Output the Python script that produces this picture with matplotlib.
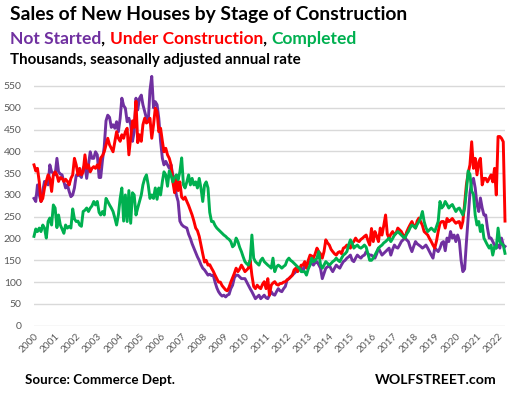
import matplotlib
matplotlib.use("Agg")
import matplotlib.pyplot as plt
import pandas as pd

start_month = "2000-01-01"
year_labels = [str(y) for y in range(2000, 2023)]
y_ticks = list(range(0, 551, 50))

not_started = [
    292, 285, 323, 300, 285, 310, 331, 327, 323, 369, 353, 350,
    346, 384, 353, 348, 346, 331, 316, 323, 308, 296, 300, 316,
    345, 345, 346, 340, 361, 369, 338, 369, 399, 384, 384, 399,
    392, 340, 340, 380, 410, 470, 483, 478, 455, 461, 453, 468,
    445, 476, 522, 505, 499, 468, 476, 461, 423, 445, 522, 495,
    522, 529, 507, 491, 476, 468, 540, 572, 500, 514, 507, 476,
    423, 384, 369, 377, 369, 361, 369, 345, 330, 300, 285, 240,
    232, 228, 226, 224, 210, 200, 188, 178, 168, 158, 150, 140,
    132, 128, 122, 116, 118, 115, 116, 100, 87, 78, 72, 68,
    70, 66, 70, 72, 85, 93, 110, 116, 116, 112, 108, 108,
    108, 100, 93, 85, 78, 70, 62, 66, 70, 62, 66, 70,
    64, 62, 70, 78, 72, 70, 78, 85, 80, 78, 85, 90,
    105, 108, 112, 116, 120, 124, 128, 132, 132, 124, 139, 139,
    143, 147, 143, 139, 145, 147, 140, 132, 108, 120, 132, 135,
    139, 130, 124, 132, 139, 135, 132, 140, 147, 150, 155, 158,
    162, 150, 147, 155, 162, 158, 155, 160, 162, 170, 165, 162,
    162, 158, 155, 165, 178, 170, 162, 166, 170, 174, 178, 162,
    175, 185, 180, 178, 185, 193, 197, 201, 197, 193, 180, 170,
    182, 193, 188, 185, 182, 178, 181, 185, 178, 170, 162, 155,
    178, 174, 170, 178, 190, 193, 172, 201, 193, 216, 201, 208,
    193, 208, 195, 150, 124, 130, 190, 246, 305, 330, 338, 316,
    278, 262, 293, 270, 254, 254, 224, 201, 201, 193, 185, 178,
    185, 178, 201, 185, 182,
]

under_construction = [
    369, 355, 361, 330, 285, 292, 316, 331, 346, 338, 308, 346,
    353, 346, 331, 340, 338, 331, 336, 331, 323, 338, 346, 384,
    369, 346, 361, 346, 353, 392, 361, 369, 353, 361, 365, 361,
    369, 361, 385, 390, 399, 415, 430, 415, 407, 399, 423, 445,
    430, 423, 438, 430, 445, 453, 392, 430, 470, 455, 515, 420,
    438, 423, 461, 476, 465, 468, 476, 430, 461, 499, 491, 445,
    453, 423, 399, 407, 392, 384, 369, 330, 305, 345, 310, 330,
    295, 290, 295, 285, 276, 265, 254, 240, 224, 218, 205, 185,
    165, 146, 150, 139, 140, 132, 125, 116, 108, 100, 100, 92,
    87, 82, 80, 88, 100, 110, 120, 132, 124, 130, 139, 132,
    124, 128, 132, 150, 116, 90, 85, 93, 88, 85, 95, 101,
    85, 108, 70, 93, 98, 101, 95, 93, 97, 97, 100, 101,
    105, 108, 112, 116, 128, 132, 124, 130, 139, 139, 147, 132,
    150, 162, 160, 155, 165, 178, 170, 165, 155, 170, 197, 190,
    185, 175, 170, 165, 162, 168, 170, 165, 178, 180, 185, 180,
    178, 190, 193, 201, 195, 193, 198, 201, 205, 208, 195, 185,
    223, 193, 216, 205, 193, 224, 208, 230, 254, 210, 201, 210,
    216, 208, 212, 224, 220, 216, 208, 201, 215, 224, 232, 239,
    230, 224, 240, 247, 239, 230, 216, 212, 208, 200, 193, 185,
    178, 195, 216, 235, 239, 239, 224, 246, 239, 242, 246, 240,
    235, 238, 239, 224, 239, 280, 323, 350, 369, 422, 361, 384,
    346, 376, 384, 323, 338, 338, 330, 338, 346, 330, 361, 300,
    434, 434, 430, 422, 240,
]

completed = [
    205, 222, 216, 224, 216, 231, 224, 201, 239, 247, 231, 277,
    270, 225, 254, 231, 222, 212, 231, 224, 228, 224, 268, 245,
    239, 240, 231, 228, 262, 265, 270, 262, 270, 275, 285, 277,
    285, 260, 254, 262, 254, 292, 285, 277, 270, 262, 247, 231,
    254, 292, 316, 240, 300, 239, 310, 235, 305, 300, 254, 270,
    285, 300, 323, 338, 346, 323, 292, 300, 292, 316, 290, 316,
    300, 331, 353, 346, 320, 355, 345, 330, 340, 346, 335, 353,
    385, 323, 316, 330, 346, 323, 338, 323, 330, 316, 338, 316,
    285, 323, 330, 316, 260, 239, 239, 230, 224, 220, 216, 212,
    208, 205, 201, 198, 193, 181, 185, 201, 193, 180, 170, 158,
    147, 142, 139, 150, 208, 155, 147, 143, 139, 150, 155, 147,
    143, 139, 136, 132, 155, 124, 135, 139, 136, 132, 136, 139,
    150, 155, 150, 147, 143, 139, 135, 132, 124, 124, 124, 116,
    130, 139, 155, 147, 150, 155, 170, 140, 132, 139, 147, 143,
    139, 143, 147, 150, 155, 150, 147, 155, 162, 165, 170, 185,
    197, 190, 178, 182, 185, 180, 178, 181, 185, 180, 165, 150,
    150, 155, 162, 170, 178, 182, 185, 190, 193, 197, 201, 193,
    200, 208, 212, 216, 212, 208, 204, 201, 210, 216, 225, 231,
    228, 224, 232, 239, 247, 262, 239, 225, 216, 220, 224, 220,
    216, 228, 239, 285, 270, 275, 285, 278, 270, 275, 278, 270,
    262, 268, 270, 262, 254, 270, 309, 355, 347, 309, 301, 254,
    231, 239, 216, 231, 201, 193, 185, 178, 185, 162, 181, 178,
    224, 193, 188, 185, 166,
]

series = [
    ("Not Started", not_started, "#7030A0"),
    ("Under Construction", under_construction, "#FF0000"),
    ("Completed", completed, "#00B050"),
]

W, H = 512, 394
fig = plt.figure(figsize=(W / 100, H / 100), dpi=100)
fig.patch.set_facecolor("white")

left_px, right_px = 34, 505
bottom_px_from_top, top_px_from_top = 325.7, 72.9
ax = fig.add_axes([left_px / W, (H - bottom_px_from_top) / H,
                   (right_px - left_px) / W,
                   (bottom_px_from_top - top_px_from_top) / H])

n = len(not_started)
dates = pd.date_range(start_month, periods=n, freq="MS")

for name, vals, col in series:
    ax.plot(dates, vals, color=col, lw=2.1, solid_joinstyle="round",
            clip_on=False, zorder=3)

ax.set_ylim(0, 580)
ax.set_yticks(y_ticks)
ax.set_xlim(dates[0], dates[-1])
tick_dates = pd.to_datetime([f"{y}-01-01" for y in year_labels])
ax.set_xticks(tick_dates)
ax.set_xticklabels(year_labels, rotation=45, ha="right",
                   rotation_mode="anchor", fontsize=7.2, color="#595959",
                   family="Lato")
ax.tick_params(axis="x", length=0, pad=4)
ax.tick_params(axis="y", length=0, pad=9, labelsize=7.5, labelcolor="#595959")
for lab in ax.get_yticklabels():
    lab.set_family("Lato")
ax.grid(axis="y", color="#D9D9D9", lw=1.0, zorder=0)
ax.grid(axis="x", visible=False)
for s in ax.spines.values():
    s.set_visible(False)
ax.set_facecolor("white")


def px(x, y_from_top):
    return x / W, (H - y_from_top) / H


fig.text(*px(10, 20), "Sales of New Houses by Stage of Construction",
         fontsize=13.9, fontweight="bold", family="Lato", va="baseline",
         ha="left", color="black")

renderer = fig.canvas.get_renderer()
parts = [("Not Started", "#7030A0"), (", ", "black"),
         ("Under Construction", "#FF0000"), (", ", "black"),
         ("Completed", "#00B050")]
x_cur = 10
for txt, col in parts:
    t = fig.text(*px(x_cur, 44), txt, fontsize=12.5, fontweight="bold",
                 family="Lato", va="baseline", ha="left", color=col)
    bb = t.get_window_extent(renderer=renderer)
    x_cur += bb.width

fig.text(*px(10, 64), "Thousands, seasonally adjusted annual rate",
         fontsize=10.9, fontweight="bold", family="Lato", va="baseline",
         ha="left", color="black")

fig.text(*px(25, 384), "Source: Commerce Dept.", fontsize=9.6,
         fontweight="bold", family="Lato", va="baseline", ha="left",
         color="black")
fig.text(*px(497, 384), "WOLFSTREET.com", fontsize=10.2, fontweight="bold",
         family="Lato", va="baseline", ha="right", color="black")

fig.savefig("out.png", dpi=100, facecolor="white")
